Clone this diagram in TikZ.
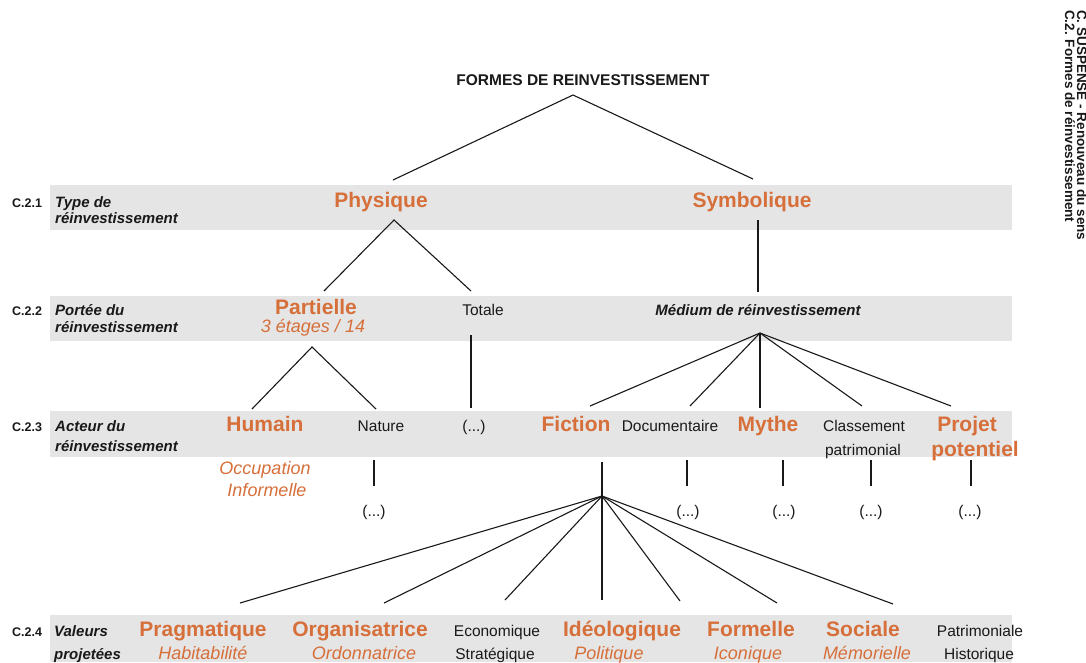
\documentclass[tikz,border=0pt]{standalone}
\usepackage{fontspec}
\setmainfont{Liberation Sans}
\definecolor{orng}{RGB}{214,111,57}
\definecolor{bandgray}{RGB}{229,229,229}
\definecolor{ink}{RGB}{25,25,25}
\tikzset{
  hd/.style={font=\fontsize{21}{24}\selectfont\bfseries, text=orng, anchor=base, inner sep=0pt},
  sb/.style={font=\fontsize{18}{21}\selectfont\itshape, text=orng, anchor=base, inner sep=0pt},
  pl/.style={font=\fontsize{15.5}{18}\selectfont, text=ink, anchor=base, inner sep=0pt},
  ttl/.style={font=\fontsize{15.5}{18}\selectfont\bfseries, text=ink, anchor=base, inner sep=0pt},
  lb/.style={font=\fontsize{15}{18}\selectfont\bfseries\itshape, text=ink, anchor=base west, inner sep=0pt},
  md/.style={font=\fontsize{15}{18}\selectfont\bfseries\itshape, text=ink, anchor=base, inner sep=0pt},
  cd/.style={font=\fontsize{12.5}{14}\selectfont\bfseries, text=ink, anchor=base west, inner sep=0pt},
  sidetxt/.style={font=\fontsize{13.5}{15}\selectfont\bfseries, text=ink, anchor=base west, inner sep=0pt, rotate=-90},
  bandbox/.style={fill=bandgray, draw=none},
  link/.style={draw=ink, line width=1.1pt},
}
\begin{document}
\begin{tikzpicture}[x=1pt,y=-1pt]
\useasboundingbox (0,0) rectangle (1086,662);
\fill[white] (0,0) rectangle (1086,662);
% bands
\path[bandbox] (50,185) rectangle (1012,230);
\path[bandbox] (50,296) rectangle (1012,341);
\path[bandbox] (50,411) rectangle (1012,457);
\path[bandbox] (50,615) rectangle (1012,662);

% side title
\node[sidetxt] (sideA) at (1077,10) {C. SUSPENSE - Renouveau du sens};
\node[sidetxt] (sideB) at (1065,10) {C.2. Formes de réinvestissement};

% left labels
\node[cd] (c1) at (12,207) {C.2.1};
\node[lb] (l1a) at (55,207) {Type de};
\node[lb] (l1b) at (55,223) {réinvestissement};
\node[cd] (c2) at (12,315) {C.2.2};
\node[lb] (l2a) at (55,315) {Portée du};
\node[lb] (l2b) at (55,332) {réinvestissement};
\node[cd] (c3) at (12,431) {C.2.3};
\node[lb] (l3a) at (55,431) {Acteur du};
\node[lb] (l3b) at (55,451) {réinvestissement};
\node[cd] (c4) at (12,636) {C.2.4};
\node[lb] (l4a) at (54,636) {Valeurs};
\node[lb] (l4b) at (54,659) {projetées};

% title
\node[ttl] (title) at (583,85) {FORMES DE REINVESTISSEMENT};

% level 1
\node[hd] (phys) at (381,207) {Physique};
\node[hd] (symb) at (752,207) {Symbolique};

% level 2
\node[hd] (part) at (316,314) {Partielle};
\node[sb] (partsub) at (313,332) {3 étages / 14};
\node[pl] (tot) at (483,315) {Totale};
\node[md] (med) at (758,315) {Médium de réinvestissement};

% level 3
\node[hd] (hum) at (265,431) {Humain};
\node[sb] (occ1) at (265,474.5) {Occupation};
\node[sb] (occ2) at (267,496.5) {Informelle};
\node[pl] (nat) at (381,431) {Nature};
\node[pl] (etc0) at (474,431) {(...)};
\node[hd] (fic) at (576,431) {Fiction};
\node[pl] (doc) at (670,431) {Documentaire};
\node[hd] (myt) at (768,431) {Mythe};
\node[pl] (cla1) at (864,431) {Classement};
\node[pl] (cla2) at (863,455) {patrimonial};
\node[hd] (pro1) at (967,431) {Projet};
\node[hd] (pro2) at (975,456) {potentiel};

% dots below level 3
\node[pl] (etc1) at (374,516) {(...)};
\node[pl] (etc2) at (688,516) {(...)};
\node[pl] (etc3) at (784,516) {(...)};
\node[pl] (etc4) at (871,516) {(...)};
\node[pl] (etc5) at (970,516) {(...)};

% level 4
\node[hd] (v1) at (203,636.5) {Pragmatique};
\node[sb] (v1s) at (203,659.5) {Habitabilité};
\node[hd] (v2) at (360,636.5) {Organisatrice};
\node[sb] (v2s) at (364,659.5) {Ordonnatrice};
\node[pl] (v3) at (497,636.5) {Economique};
\node[pl] (v3s) at (495,659) {Stratégique};
\node[hd] (v4) at (622,636.5) {Idéologique};
\node[sb] (v4s) at (609,659.5) {Politique};
\node[hd] (v5) at (751,636.5) {Formelle};
\node[sb] (v5s) at (748,659.5) {Iconique};
\node[hd] (v6) at (863,636.5) {Sociale};
\node[sb] (v6s) at (867,659.5) {Mémorielle};
\node[pl] (v7) at (980,636.5) {Patrimoniale};
\node[pl] (v7s) at (979,659) {Historique};

% connector points
\coordinate (t0) at (573,95);
\coordinate (t1) at (393,180);
\coordinate (t2) at (753,179);
\coordinate (p0) at (394,220);
\coordinate (p1) at (324,291);
\coordinate (p2) at (471,291);
\coordinate (s0) at (758,220);
\coordinate (s1) at (758,292);
\coordinate (q0) at (312,347);
\coordinate (q1) at (252,409);
\coordinate (q2) at (376,409);
\coordinate (r0) at (471,335);
\coordinate (r1) at (471,408);
\coordinate (m0) at (760,333);
\coordinate (m1) at (590,406);
\coordinate (m2) at (690,406);
\coordinate (m3) at (760,408);
\coordinate (m4) at (862,406);
\coordinate (m5) at (951,406);
\coordinate (n0) at (374,460);
\coordinate (n1) at (374,486);
\coordinate (d0) at (687,460);
\coordinate (d1) at (687,486);
\coordinate (y0) at (783,460);
\coordinate (y1) at (783,486);
\coordinate (k0) at (871,460);
\coordinate (k1) at (871,486);
\coordinate (j0) at (971,460);
\coordinate (j1) at (971,486);
\coordinate (f0) at (602,462);
\coordinate (f1) at (602,496);
\coordinate (g1) at (240,603);
\coordinate (g2) at (384,603);
\coordinate (g3) at (505,600);
\coordinate (g4) at (602,600);
\coordinate (g5) at (680,601);
\coordinate (g6) at (777,603);
\coordinate (g7) at (893,604);

% connectors
\draw[link] (t1) -- (t0) -- (t2);
\draw[link] (p1) -- (p0) -- (p2);
\draw[link] (s0) -- (s1);
\draw[link] (q1) -- (q0) -- (q2);
\draw[link] (r0) -- (r1);
\foreach \e in {m1,m2,m3,m4,m5} \draw[link] (m0) -- (\e);
\draw[link] (n0) -- (n1);
\draw[link] (d0) -- (d1);
\draw[link] (y0) -- (y1);
\draw[link] (k0) -- (k1);
\draw[link] (j0) -- (j1);
\draw[link] (f0) -- (f1);
\foreach \e in {g1,g2,g3,g4,g5,g6,g7} \draw[link] (f1) -- (\e);
\end{tikzpicture}
\end{document}
